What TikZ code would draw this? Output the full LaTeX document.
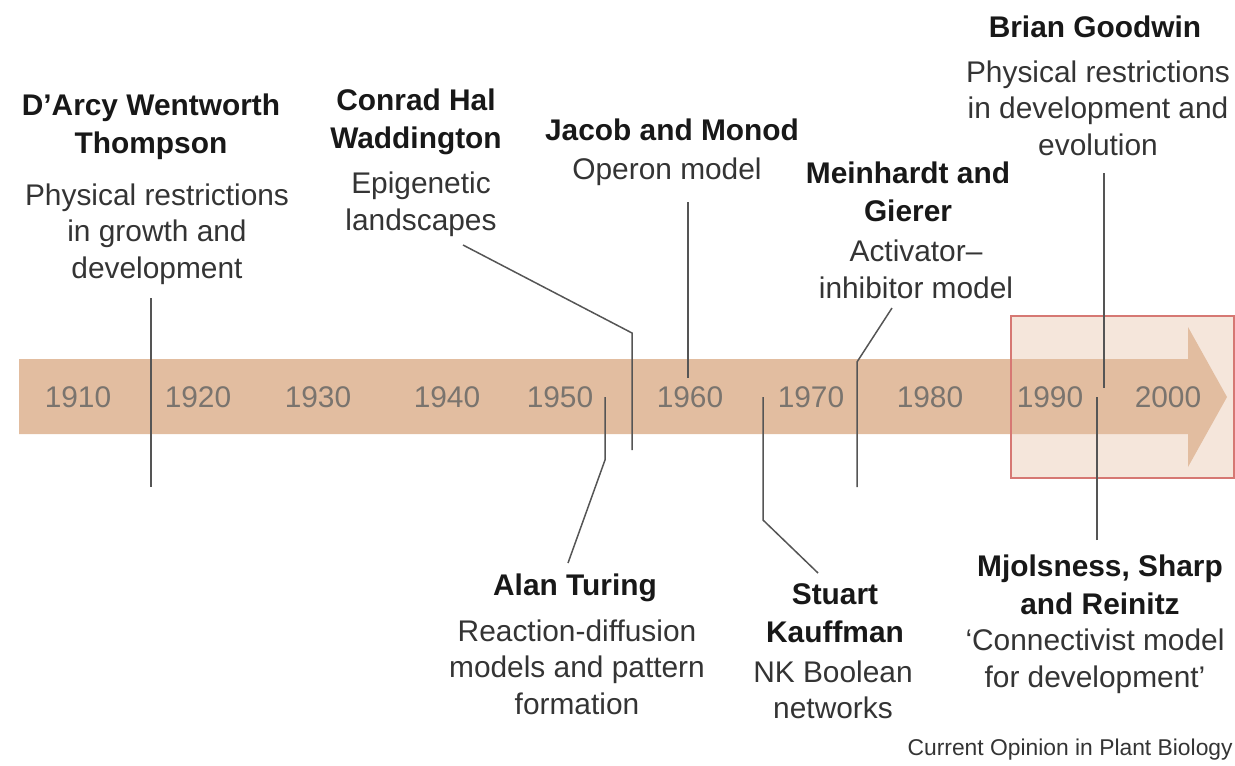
\documentclass[tikz,border=0pt]{standalone}
\usepackage{fontspec}
\setmainfont{Liberation Sans}
\definecolor{bandcol}{RGB}{226,189,160}
\definecolor{boxfill}{RGB}{245,230,219}
\definecolor{boxline}{RGB}{214,120,115}
\definecolor{namecol}{RGB}{24,24,24}
\definecolor{desccol}{RGB}{52,52,52}
\definecolor{yearcol}{RGB}{122,116,110}
\definecolor{linecol}{RGB}{85,85,85}
\begin{document}
\begin{tikzpicture}[x=0.02cm,y=-0.02cm,
  whobox/.style={font=\fontsize{17}{21.5}\selectfont\bfseries, text=namecol, align=center, inner sep=0pt},
  descbox/.style={font=\fontsize{17}{20.8}\selectfont, text=desccol, align=center, inner sep=0pt},
  yearlbl/.style={font=\fontsize{17}{20}\selectfont, text=yearcol, inner sep=0pt},
  conn/.style={draw=linecol, line width=0.85pt}]
\useasboundingbox (0,0) rectangle (1235,765);

% highlighted recent period
\fill[boxfill] (1011,316) rectangle (1234,478);
% timeline arrow
\fill[bandcol] (19,359) -- (1188,359) -- (1188,327) -- (1227,397)
  -- (1188,467) -- (1188,434) -- (19,434) -- cycle;
\draw[boxline, line width=0.9pt] (1011,316) rectangle (1234,478);

% decades
\foreach \yr/\xx in {1910/78,1920/198,1930/318,1940/447,1950/560,1960/690,1970/811,1980/930,1990/1050,2000/1168}
  \node[yearlbl] (y\yr) at (\xx,397) {\yr};

% labels
\node[whobox] (thomN) at (151,127) {D’Arcy Wentworth\\Thompson};
\node[descbox] (thomD) at (157,234) {Physical restrictions\\in growth and\\development};

\node[whobox] (wadN) at (416,121.5) {Conrad Hal\\Waddington};
\node[descbox] (wadD) at (421,204.5) {Epigenetic\\landscapes};

\node[whobox] (jmN) at (672,130) {Jacob and Monod};
\node[descbox] (jmD) at (667,172) {Operon model};

\node[whobox] (mgN) at (908,191.5) {Meinhardt and\\Gierer};
\node[descbox] (mgD) at (916,269.5) {Activator–\\inhibitor model};

\node[whobox] (bgN) at (1095,27) {Brian Goodwin};
\node[descbox] (bgD) at (1098,108) {Physical restrictions\\in development and\\evolution};

\node[whobox] (atN) at (575,588) {Alan Turing};
\node[descbox] (atD) at (577,667) {Reaction-diffusion\\models and pattern\\formation};

\node[whobox] (skN) at (835,613.5) {Stuart\\Kauffman};
\node[descbox] (skD) at (833,690) {NK Boolean\\networks};

\node[whobox] (msN) at (1100,585) {Mjolsness, Sharp\\and Reinitz};
\node[descbox] (msD) at (1095,661.5) {‘Connectivist model\\for development’};

\node[font=\fontsize{13}{15}\selectfont, text=desccol, anchor=east, inner sep=0pt] (credit) at (1233,750) {Current Opinion in Plant Biology};

% connector ends
\coordinate (thomA) at (151,298); \coordinate (thomB) at (151,487);
\coordinate (wadA) at (463,245);  \coordinate (wadB) at (632,450);
\coordinate (jmA) at (688,202);   \coordinate (jmB) at (688,378);
\coordinate (mgA) at (892,308);   \coordinate (mgB) at (857,487);
\coordinate (bgA) at (1104,173);  \coordinate (bgB) at (1104,388);
\coordinate (atA) at (568,563);   \coordinate (atB) at (605,397);
\coordinate (skA) at (818,573);   \coordinate (skB) at (763,397);
\coordinate (msA) at (1097,540);  \coordinate (msB) at (1097,397);

% connectors
\draw[conn] (thomA) -- (thomB);
\draw[conn] (wadA) -- (632,333) -- (wadB);
\draw[conn] (jmA) -- (jmB);
\draw[conn] (mgA) -- (857,362) -- (mgB);
\draw[conn] (bgA) -- (bgB);
\draw[conn] (atA) -- (605,460) -- (atB);
\draw[conn] (skA) -- (763,520) -- (skB);
\draw[conn] (msA) -- (msB);
\end{tikzpicture}
\end{document}
